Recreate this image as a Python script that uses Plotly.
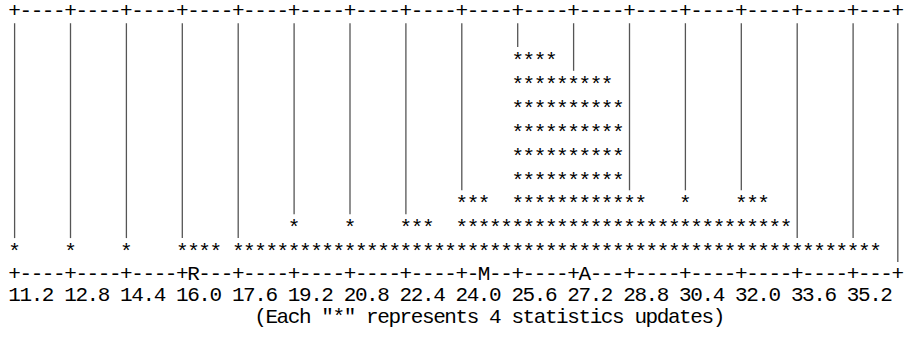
import plotly.graph_objects as go

# ---------------- data ----------------
bin_lo = 11.2            # value of the first histogram column
bin_step = 0.32          # value width of one column (1.6 per 5 columns)
stars_per_bin = [1, 0, 0, 0, 0, 1, 0, 0, 0, 0, 1, 0, 0, 0, 0, 1, 1, 1, 1, 0,
                 1, 1, 1, 1, 1, 2, 1, 1, 1, 1, 2, 1, 1, 1, 1, 2, 2, 2, 1, 1,
                 3, 3, 3, 2, 2, 9, 9, 9, 9, 8, 8, 8, 8, 8, 7, 3, 3, 2, 2, 2,
                 3, 2, 2, 2, 2, 3, 3, 3, 2, 2, 1, 1, 1, 1, 1, 1, 1, 1, 0, 0]
updates_per_star = 4
tick_labels = ["11.2", "12.8", "14.4", "16.0", "17.6", "19.2", "20.8", "22.4",
               "24.0", "25.6", "27.2", "28.8", "30.4", "32.0", "33.6", "35.2"]
marker_names = ["R", "M", "A"]
marker_values = [16.32, 24.64, 27.52]
footnote = '(Each "*" represents %d statistics updates)' % updates_per_star

# ---------------- layout constants ----------------
W, H = 905, 339
n_cols = len(stars_per_bin)
n_rows = 10                      # data rows (1..10)
axis_row = n_rows + 1
label_row = axis_row + 0.88
note_row = axis_row + 1.80
note_col = 22
star_dy = 0.085                  # asterisk glyph sits high; nudge it down
col_px0, col_px = 14.6, 11.18    # pixel centre of col 0, px per col
row_px0, row_px = 12.0, 23.9     # pixel centre of row 0, px per row


def to_col(v):
    return int(round((v - bin_lo) / bin_step))


tick_cols = [to_col(float(t)) for t in tick_labels]
frame_cols = tick_cols + [n_cols - 1]

chars = []  # (col, row, char)


def border(row, extra=None):
    marks = dict(extra or [])
    for c in range(n_cols):
        if c in marks:
            ch = marks[c]
        elif c in frame_cols:
            ch = "+"
        else:
            ch = "-"
        chars.append((c, row, ch))


border(0)
border(axis_row, [(to_col(v), n) for v, n in zip(marker_values, marker_names)])

# stars
star_x, star_y = [], []
for c, h in enumerate(stars_per_bin):
    for k in range(h):
        star_x.append(c)
        star_y.append(n_rows - k + star_dy)

# tick labels
for c0, lbl in zip(tick_cols, tick_labels):
    for i, ch in enumerate(lbl):
        chars.append((c0 + i, label_row, ch))

# footnote
for i, ch in enumerate(footnote):
    if ch != " ":
        chars.append((note_col + i, note_row, ch))

# vertical rules ("|") above each column at the frame columns
vx, vy = [], []
for c in frame_cols:
    h = stars_per_bin[c]
    bottom = n_rows - h + 0.46
    if bottom > 0.5:
        vx += [c, c, None]
        vy += [0.47, bottom, None]

font = dict(family="Liberation Mono, Courier New, monospace", size=21, color="#000000")

fig = go.Figure()
fig.add_trace(go.Scatter(x=vx, y=vy, mode="lines",
                         line=dict(color="#555555", width=1.3),
                         hoverinfo="skip", showlegend=False, cliponaxis=False))
fig.add_trace(go.Scatter(x=star_x, y=star_y, mode="text", text=["*"] * len(star_x),
                         textposition="middle center", textfont=font,
                         hoverinfo="skip", showlegend=False, cliponaxis=False))
fig.add_trace(go.Scatter(x=[t[0] for t in chars], y=[t[1] for t in chars],
                         mode="text", text=[t[2] for t in chars],
                         textposition="middle center", textfont=font,
                         hoverinfo="skip", showlegend=False, cliponaxis=False))

fig.update_layout(
    width=W, height=H,
    margin=dict(l=0, r=0, t=0, b=0),
    paper_bgcolor="white", plot_bgcolor="white",
    hovermode=False,
    xaxis=dict(range=[-col_px0 / col_px, (W - col_px0) / col_px],
               visible=False, fixedrange=True),
    yaxis=dict(range=[(H - row_px0) / row_px, -row_px0 / row_px],
               visible=False, fixedrange=True),
)

fig.write_html("out.html", config={"displayModeBar": False},
               post_script="document.body.style.margin='0';"
                           "document.body.style.overflow='hidden';")
